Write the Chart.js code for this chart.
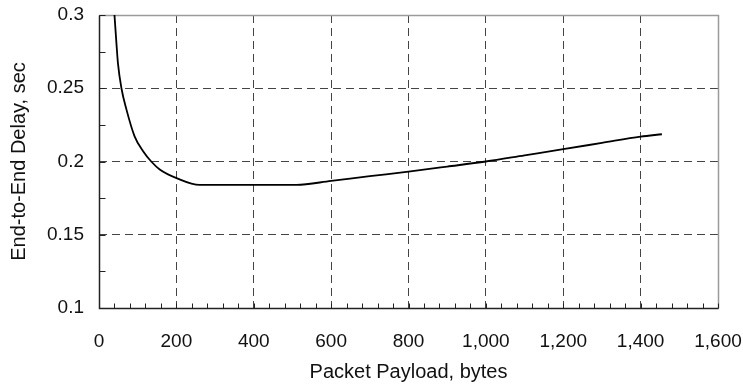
<!DOCTYPE html>
<html>
<head>
<meta charset="utf-8">
<script src="https://cdn.jsdelivr.net/npm/chart.js@4"></script>
<style>
  html, body { margin: 0; padding: 0; background: #fff; }
  #wrap { width: 743px; height: 389px; position: relative; }
</style>
</head>
<body>
<div id="wrap"><canvas id="chart"></canvas></div>
<script>
// values
const payloadBytes = [40, 45, 49, 58, 71, 92, 114, 135, 157, 202, 260, 400, 510,
                      600, 700, 800, 900, 1000, 1100, 1200, 1300, 1400, 1455];
const delaySec     = [0.300, 0.281, 0.267, 0.250, 0.2354, 0.2172, 0.207, 0.200, 0.1946, 0.1885,
                      0.184, 0.184, 0.184, 0.1868, 0.190, 0.1931, 0.1965, 0.200,
                      0.2042, 0.2084, 0.2127, 0.217, 0.2186];

const X_MIN = 0, X_MAX = 1600, X_STEP = 200, X_MINOR = 40;
const Y_MIN = 0.1, Y_MAX = 0.3, Y_STEP = 0.05, Y_MINOR = 0.025;

const FONT = "'Liberation Sans', Arial, sans-serif";

// frame + inward minor ticks, drawn through the chart's own scales
const framePlugin = {
  id: "frame",
  beforeDatasetsDraw(chart) {
    const { ctx, chartArea: a, scales: { x, y } } = chart;
    const L = Math.round(a.left) + 0.5, R = Math.round(a.right) + 0.5;
    const T = Math.round(a.top) + 0.5, B = Math.round(a.bottom) + 0.5;
    ctx.save();
    ctx.setLineDash([]);
    ctx.lineWidth = 1.5;
    ctx.strokeStyle = "#9a9a9a";
    ctx.beginPath();
    ctx.moveTo(L, T); ctx.lineTo(R, T); ctx.lineTo(R, B);
    ctx.stroke();

    ctx.strokeStyle = "#222";
    ctx.lineWidth = 1.5;
    ctx.beginPath();
    ctx.moveTo(L, T); ctx.lineTo(L, B); ctx.lineTo(R, B);
    ctx.stroke();

    ctx.lineWidth = 1;
    ctx.beginPath();
    for (let v = X_MIN; v <= X_MAX + 1e-9; v += X_MINOR) {
      const px = Math.round(x.getPixelForValue(v)) + 0.5;
      ctx.moveTo(px, B); ctx.lineTo(px, B - 5);
    }
    for (let v = Y_MIN; v <= Y_MAX + 1e-9; v += Y_MINOR) {
      const py = Math.round(y.getPixelForValue(v)) + 0.5;
      ctx.moveTo(L, py); ctx.lineTo(L + 6, py);
    }
    ctx.stroke();
    ctx.restore();
  },
};

const noPad = s => {
  s.paddingLeft = s.paddingRight = s.paddingTop = s.paddingBottom = 0;
};

new Chart(document.getElementById("chart"), {
  type: "line",
  data: {
    datasets: [{
      data: payloadBytes.map((b, i) => ({ x: b, y: delaySec[i] })),
      borderColor: "#000",
      borderWidth: 1.8,
      pointRadius: 0,
      cubicInterpolationMode: "monotone",
      fill: false,
    }],
  },
  options: {
    responsive: true,
    maintainAspectRatio: false,
    devicePixelRatio: 1,
    animation: false,
    layout: { padding: { left: 0, right: 25, top: 15, bottom: 0 } },
    plugins: { legend: { display: false }, tooltip: { enabled: false } },
    scales: {
      x: {
        type: "linear",
        min: X_MIN, max: X_MAX,
        afterFit: s => { s.height = 81; noPad(s); },
        grid: { color: "#444", lineWidth: 1, drawTicks: false },
        border: { display: false, dash: [8, 5] },
        ticks: {
          stepSize: X_STEP, padding: 22, color: "#111",
          font: { family: FONT, size: 19 },
          callback: v => v.toLocaleString("en-US"),
        },
        title: {
          display: true, text: "Packet Payload, bytes", color: "#111",
          font: { family: FONT, size: 20 }, padding: { top: 0, bottom: 5 },
        },
      },
      y: {
        min: Y_MIN, max: Y_MAX,
        afterFit: s => { s.width = 99; noPad(s); },
        grid: { color: "#444", lineWidth: 1, drawTicks: false },
        border: { display: false, dash: [8, 5] },
        ticks: {
          stepSize: Y_STEP, padding: 15, color: "#111",
          font: { family: FONT, size: 19 },
          callback: v => +v.toFixed(3) + "",
        },
        title: {
          display: true, text: "End-to-End Delay, sec", color: "#111",
          font: { family: FONT, size: 20 }, padding: { top: 7, bottom: 0 },
        },
      },
    },
  },
  plugins: [framePlugin],
});
</script>
</body>
</html>
